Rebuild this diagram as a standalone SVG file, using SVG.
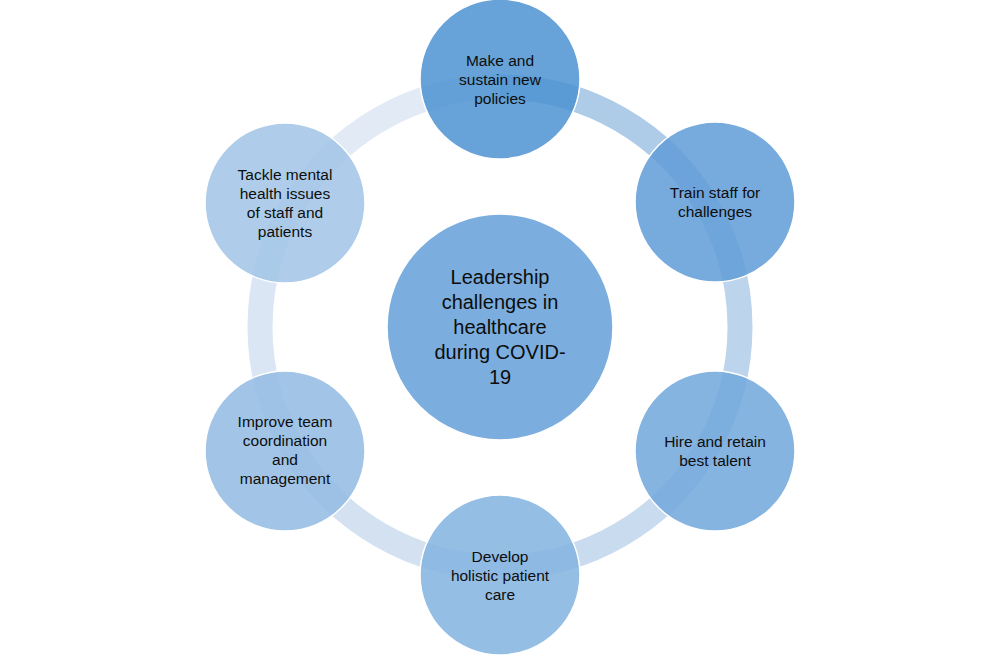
<svg xmlns="http://www.w3.org/2000/svg" width="1000" height="655" viewBox="0 0 1000 655">
<style>
.seg{fill:none;stroke-width:25}
.node{stroke:#ffffff;stroke-width:1.5}
.sat{fill-opacity:0.85}
text{font-family:"Liberation Sans",Arial,sans-serif;font-size:15.5px;fill:#0d0d0d;text-anchor:middle}
.big{font-size:20px}
</style>
<rect width="1000" height="655" fill="#ffffff"/>
<g id="connectors">
<path class="seg" stroke="#AECBE8" d="M500,87 A240,240 0 0 1 707.85,207"/>
<path class="seg" stroke="#BDD5EC" d="M707.85,207 A240,240 0 0 1 707.85,447"/>
<path class="seg" stroke="#C8DBEF" d="M707.85,447 A240,240 0 0 1 500,567"/>
<path class="seg" stroke="#D3E1F1" d="M500,567 A240,240 0 0 1 292.15,447"/>
<path class="seg" stroke="#DAE6F3" d="M292.15,447 A240,240 0 0 1 292.15,207"/>
<path class="seg" stroke="#E1EAF5" d="M292.15,207 A240,240 0 0 1 500,87"/>
</g>
<g id="center">
<circle class="node" cx="500" cy="327" r="113" fill="#7BAEDE"/>
<text class="big" x="500" y="284">Leadership</text>
<text class="big" x="500" y="309">challenges in</text>
<text class="big" x="500" y="334">healthcare</text>
<text class="big" x="500" y="359">during COVID-</text>
<text class="big" x="500" y="384">19</text>
</g>
<g id="node-top">
<circle class="node sat" cx="500" cy="79" r="80" fill="#4C93D1"/>
<text x="500" y="65.5">Make and</text>
<text x="500" y="84.5">sustain new</text>
<text x="500" y="103.5">policies</text>
</g>
<g id="node-top-right">
<circle class="node sat" cx="715" cy="202" r="80" fill="#609CD7"/>
<text x="715" y="198">Train staff for</text>
<text x="715" y="217">challenges</text>
</g>
<g id="node-bottom-right">
<circle class="node sat" cx="715" cy="451" r="80" fill="#71A7DC"/>
<text x="715" y="447">Hire and retain</text>
<text x="715" y="466">best talent</text>
</g>
<g id="node-bottom">
<circle class="node sat" cx="500" cy="575" r="80" fill="#82B3E0"/>
<text x="500" y="561.5">Develop</text>
<text x="500" y="580.5">holistic patient</text>
<text x="500" y="599.5">care</text>
</g>
<g id="node-bottom-left">
<circle class="node sat" cx="285" cy="451" r="80" fill="#92BBE3"/>
<text x="285" y="427">Improve team</text>
<text x="285" y="446">coordination</text>
<text x="285" y="465">and</text>
<text x="285" y="484">management</text>
</g>
<g id="node-top-left">
<circle class="node sat" cx="285" cy="203" r="80" fill="#A1C4E6"/>
<text x="285" y="180">Tackle mental</text>
<text x="285" y="199">health issues</text>
<text x="285" y="218">of staff and</text>
<text x="285" y="237">patients</text>
</g>
</svg>
